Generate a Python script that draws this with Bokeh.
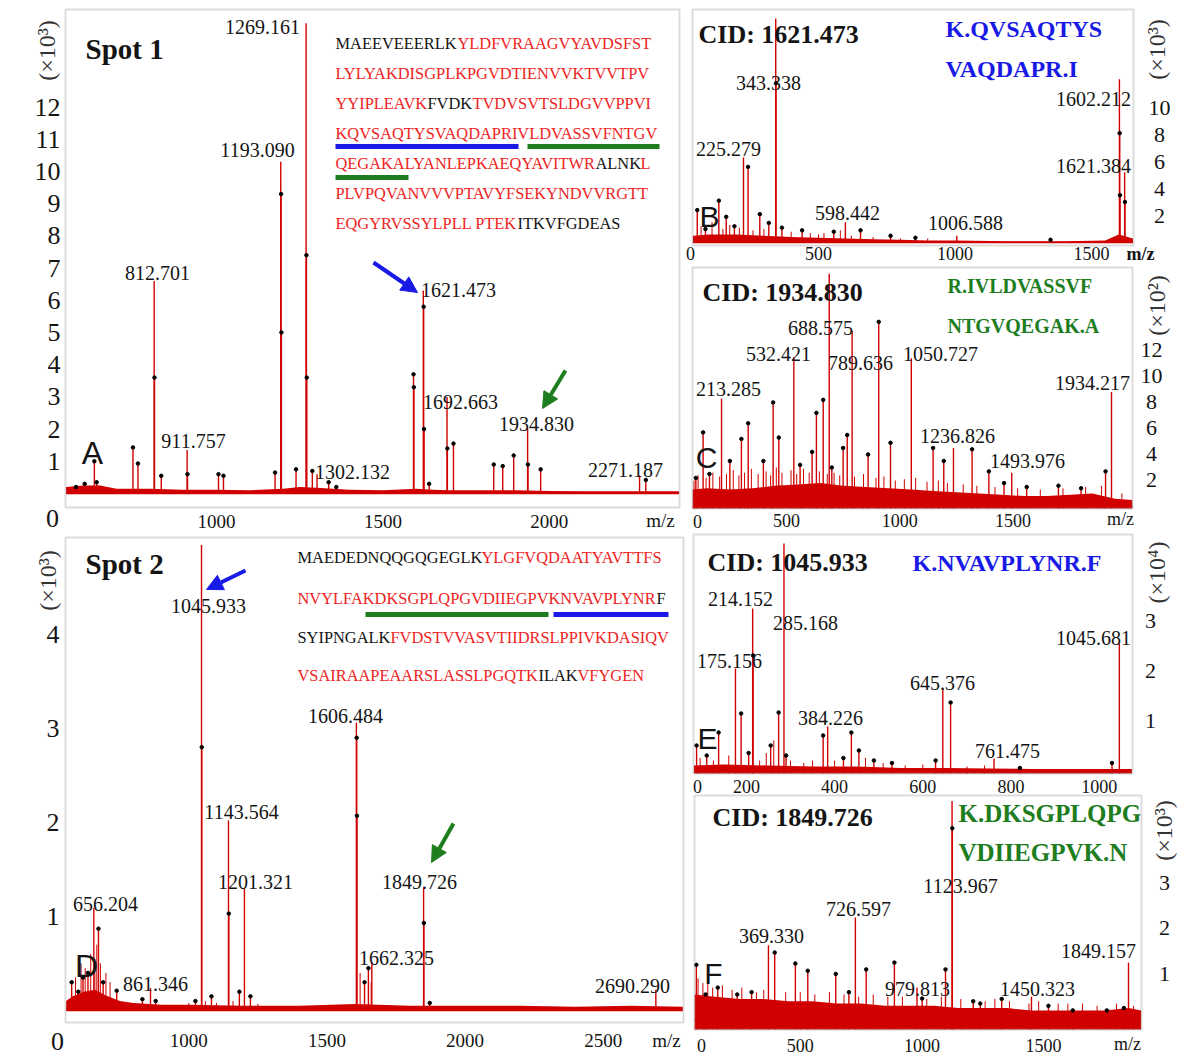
from math import pi
from bokeh.plotting import figure
from bokeh.models import Label, Arrow, NormalHead, Range1d, BoxAnnotation
from bokeh.embed import file_html
from bokeh.resources import INLINE

# ============================ DATA ============================
# Panel A - Spot 1 peptide mass fingerprint (intensity x10^3)
A_peak_mz = [812.701, 911.757, 1193.090, 1269.161, 1302.132, 1621.473, 1692.663, 1934.830, 2271.187]
A_peak_int = [6.6, 1.35, 10.3, 14.6, 0.6, 6.3, 3.0, 2.0, 0.56]
A_minor_mz = [578, 604, 633, 640, 749, 764, 813.7, 834, 912.8, 1006, 1021, 1176, 1194.1, 1195.1, 1239,
              1270.2, 1271.2, 1288, 1337, 1360, 1592, 1593, 1622.5, 1623.5, 1639, 1693.7, 1712, 1833,
              1860, 1893, 1935.8, 1974, 2290]
A_minor_int = [0.2, 0.3, 1.0, 0.35, 1.43, 0.93, 3.6, 0.55, 0.6, 0.6, 0.55, 0.65, 9.3, 5.0, 0.75,
               7.4, 3.6, 0.7, 0.35, 0.2, 3.7, 3.3, 5.8, 2.0, 0.3, 1.4, 1.55, 0.9,
               0.85, 1.18, 0.9, 0.75, 0.42]
A_grass_mz = []
A_grass_int = []
A_noise_mz = [548, 600, 650, 700, 800, 900, 1000, 1100, 1200, 1250, 1300, 1400, 1500, 1600, 1650,
              1700, 1800, 1900, 2000, 2100, 2200, 2300, 2390]
A_noise_int = [0.2, 0.25, 0.25, 0.15, 0.15, 0.12, 0.12, 0.1, 0.15, 0.2, 0.18, 0.12, 0.1, 0.15, 0.12,
               0.1, 0.1, 0.1, 0.08, 0.07, 0.07, 0.07, 0.07]
A_xticks = [1000, 1500, 2000]
A_yticks = [1, 2, 3, 4, 5, 6, 7, 8, 9, 10, 11, 12]

# Panel D - Spot 2 peptide mass fingerprint (x10^3)
D_peak_mz = [656.204, 861.346, 1045.933, 1143.564, 1201.321, 1606.484, 1662.325, 1849.726, 2690.290]
D_peak_int = [1.09, 0.24, 4.95, 2.02, 1.30, 3.06, 0.51, 1.31, 0.22]
D_minor_mz = [576, 600, 617, 635, 673, 690, 739, 832, 880, 1024, 1046.9, 1082, 1144.6,
              1183, 1223, 1607.5, 1608.5, 1636, 1650, 1850.7, 1872]
D_minor_int = [0.3, 0.2, 0.35, 0.4, 0.87, 0.3, 0.21, 0.12, 0.1, 0.1, 2.8, 0.15, 1.03,
               0.2, 0.15, 2.9, 2.07, 0.3, 0.45, 0.93, 0.08]
D_grass_mz = [590, 610, 625, 645, 660, 667, 680, 700, 715, 1000, 1060, 1100, 1160, 1250, 1620, 1660]
D_grass_int = [0.35, 0.5, 0.45, 0.6, 0.55, 0.7, 0.5, 0.4, 0.3, 0.08, 0.1, 0.08, 0.1, 0.07, 0.4, 0.3]
D_noise_mz = [556, 580, 620, 660, 700, 750, 800, 900, 1000, 1200, 1400, 1600, 1800, 2000, 2200,
              2400, 2600, 2788]
D_noise_int = [0.1, 0.15, 0.2, 0.22, 0.16, 0.1, 0.08, 0.06, 0.06, 0.05, 0.05, 0.07, 0.05, 0.05, 0.05,
               0.04, 0.05, 0.04]
D_xticks = [1000, 1500, 2000, 2500]
D_yticks = [1, 2, 3, 4]

# Panel B - CID of 1621.473 (x10^3)
B_peak_mz = [225.279, 343.338, 598.442, 1006.588, 1602.212, 1621.384]
B_peak_int = [6.3, 16.6, 1.5, 0.5, 12.1, 5.2]
B_minor_mz = [56, 86, 135, 162, 192, 242, 285, 318, 344.3, 366, 440, 556, 654, 764, 855, 1350,
              1603.2, 1604.2, 1622.4]
B_minor_int = [2.4, 1.0, 3.1, 1.9, 1.2, 5.6, 2.1, 1.45, 11.8, 1.1, 0.9, 0.8, 0.9, 0.5, 0.35, 0.2,
               8.1, 3.5, 3.0]
B_grass_mz = [70, 110, 150, 175, 210, 260, 300, 400, 470, 500, 520, 580, 620, 700, 800, 900]
B_grass_int = [1.2, 1.5, 1.0, 1.3, 1.1, 0.9, 1.0, 0.8, 0.7, 0.6, 0.7, 0.9, 0.5, 0.4, 0.3, 0.3]
B_noise_mz = [40, 100, 200, 300, 400, 500, 600, 700, 800, 900, 1000, 1200, 1400, 1550, 1600, 1652]
B_noise_int = [0.5, 0.6, 0.6, 0.5, 0.4, 0.35, 0.3, 0.25, 0.2, 0.15, 0.15, 0.1, 0.1, 0.15, 0.6, 0.3]
B_xticks = [500, 1000, 1500]
B_yticks = [2, 4, 6, 8, 10]

# Panel C - CID of 1934.830 (x10^2)
C_peak_mz = [213.285, 532.421, 688.575, 789.636, 1050.727, 1236.826, 1493.976, 1934.217]
C_peak_int = [8.3, 11.5, 17.9, 13.5, 11.4, 4.5, 2.6, 8.8]
C_minor_mz = [100, 132, 160, 250, 301, 331, 398, 441, 466, 560, 613, 632, 662, 700, 750, 768, 860,
              907, 959, 1147, 1194, 1319, 1393, 1460, 1560, 1700, 1800, 1908]
C_minor_int = [2.2, 5.7, 2.5, 3.5, 5.2, 6.4, 3.5, 8.0, 5.3, 3.2, 4.2, 7.2, 8.2, 3.0, 4.5, 5.5, 4.0,
               14.2, 4.9, 4.5, 3.5, 4.4, 2.7, 1.8, 1.5, 1.6, 1.4, 2.7]
C_grass_mz = [92, 110, 145, 175, 205, 235, 265, 290, 315, 345, 375, 410, 430, 455, 480, 520, 545,
              575, 600, 645, 680, 710, 735, 800, 840, 895, 930, 980, 1020, 1070, 1120, 1170, 1210,
              1280, 1340, 1420, 1520, 1620, 1720, 1820, 1890, 1980]
C_grass_int = [2.0, 2.4, 2.2, 2.6, 2.3, 2.5, 2.8, 2.4, 2.6, 2.9, 2.5, 2.7, 2.4, 3.0, 2.6, 2.8, 2.5,
               2.9, 2.6, 2.7, 2.5, 2.6, 2.4, 2.3, 2.5, 2.2, 2.3, 2.0, 2.1, 2.2, 1.9, 2.0, 1.8,
               1.7, 1.6, 1.5, 1.4, 1.3, 1.4, 1.5, 1.6, 1.0]
C_noise_mz = [86, 150, 250, 350, 450, 550, 650, 750, 850, 950, 1050, 1150, 1250, 1350, 1450, 1550,
              1650, 1750, 1850, 1950, 2026]
C_noise_int = [1.3, 1.4, 1.3, 1.4, 1.6, 1.7, 1.8, 1.6, 1.5, 1.4, 1.3, 1.2, 1.1, 1.0, 0.9, 0.8,
               0.8, 0.9, 1.0, 0.6, 0.5]
C_xticks = [500, 1000, 1500]
C_yticks = [2, 4, 6, 8, 10, 12]

# Panel E - CID of 1045.933 (x10^4)
E_peak_mz = [175.156, 214.152, 285.168, 384.226, 645.376, 761.475, 1045.681]
E_peak_int = [2.04, 3.24, 4.54, 0.88, 1.64, 0.24, 2.54]
E_minor_mz = [87, 110, 137, 188, 205, 215.15, 255, 273, 290, 374, 420, 438, 455, 489, 530, 629,
              663, 820, 1029]
E_minor_int = [0.5, 0.3, 0.76, 1.14, 0.35, 2.3, 0.5, 1.16, 0.3, 0.7, 0.25, 0.76, 0.4, 0.2, 0.15,
               0.2, 1.36, 0.05, 0.15]
E_grass_mz = [95, 125, 160, 230, 245, 262, 300, 330, 350, 400, 470, 510, 560, 600, 700, 740]
E_grass_int = [0.25, 0.2, 0.3, 0.2, 0.35, 0.6, 0.2, 0.15, 0.2, 0.2, 0.25, 0.15, 0.1, 0.12, 0.08, 0.1]
E_noise_mz = [81, 150, 250, 350, 450, 550, 650, 750, 850, 950, 1074]
E_noise_int = [0.1, 0.12, 0.1, 0.08, 0.08, 0.05, 0.05, 0.04, 0.03, 0.03, 0.03]
E_xticks = [200, 400, 600, 800, 1000]
E_yticks = [1, 2, 3]

# Panel F - CID of 1849.726 (x10^3)
F_peak_mz = [369.330, 726.597, 979.813, 1123.967, 1450.323, 1849.157]
F_peak_int = [1.63, 2.24, 0.7, 4.8, 0.5, 1.25]
F_minor_mz = [73, 111, 161, 241, 300, 395, 480, 531, 646, 700, 771, 887, 1001, 1097, 1124.97,
              1211, 1240, 1328, 1520, 1620, 1760, 1830]
F_minor_int = [1.2, 0.55, 0.7, 0.55, 0.6, 1.47, 1.23, 1.07, 1.0, 0.6, 1.1, 1.25, 0.46, 1.1, 4.2,
               0.4, 0.35, 0.45, 0.3, 0.2, 0.2, 0.25]
F_grass_mz = [80, 100, 120, 140, 180, 220, 260, 320, 350, 440, 500, 560, 620, 680, 740, 800, 860,
              920, 1020, 1080, 1160, 1260, 1300, 1360, 1440, 1480, 1560, 1600, 1660, 1720, 1800, 1870]
F_grass_int = [0.9, 0.8, 0.85, 0.7, 0.75, 0.65, 0.7, 0.6, 0.65, 0.6, 0.6, 0.55, 0.6, 0.55, 0.5, 0.55,
               0.5, 0.5, 0.45, 0.5, 0.45, 0.4, 0.45, 0.4, 0.35, 0.4, 0.35, 0.35, 0.35, 0.3, 0.35, 0.3]
F_noise_mz = [66, 150, 250, 350, 450, 550, 650, 750, 850, 950, 1050, 1150, 1250, 1350, 1450, 1550,
              1650, 1750, 1850, 1901]
F_noise_int = [0.55, 0.5, 0.45, 0.45, 0.4, 0.4, 0.35, 0.35, 0.3, 0.3, 0.3, 0.25, 0.25, 0.25, 0.2,
               0.2, 0.2, 0.2, 0.25, 0.2]
F_xticks = [500, 1000, 1500]
F_yticks = [1, 2, 3]

# Protein sequences: (segment, matched-by-PMF)
A_seq = [
    [("MAEEVEEERLK", False), ("YLDFVRAAGVYAVDSFST", True)],
    [("LYLYAKDISGPLKPGVDTIENVVKTVVTPV", True)],
    [("YYIPLEAVK", True), ("FVDK", False), ("TVDVSVTSLDGVVPPVI", True)],
    [("KQVSAQTYSVAQDAPRIVLDVASSVFNTGV", True)],
    [("QEGAKALYANLEPKAEQYAVITWR", True), ("ALNK", False), ("L", True)],
    [("PLVPQVANVVVPTAVYFSEKYNDVVRGTT", True)],
    [("EQGYRVSSYLPLL PTEK", True), ("ITKVFGDEAS", False)],
]
D_seq = [
    [("MAEDEDNQQGQGEGLK", False), ("YLGFVQDAATYAVTTFS", True)],
    [("NVYLFAKDKSGPLQPGVDIIEGPVKNVAVPLYNR", True), ("F", False)],
    [("SYIPNGALK", False), ("FVDSTVVASVTIIDRSLPPIVKDASIQV", True)],
    [("VSAIRAAPEAARSLASSLPGQTK", True), ("ILAK", False), ("VFYGEN", True)],
]

# ============================ STYLE ============================
SERIF = "Liberation Serif"
SANS = "Liberation Sans"
RED = "#d00000"
SEQ_RED = "#ee2424"
BLUE = "#1a1ae6"
GREEN = "#1e7d1e"
DARK = "#141414"
UNIT_COLOR = "#333333"
W, H = 1200, 1059

fig = figure(width=W, height=H, x_range=Range1d(0, W), y_range=Range1d(H, 0),
             output_backend="svg", toolbar_location=None,
             x_axis_location=None, y_axis_location=None, title_location=None,
             min_border_left=0, min_border_right=0, min_border_top=0, min_border_bottom=0)
fig.grid.visible = False
fig.outline_line_color = None
fig.background_fill_color = "white"
fig.border_fill_color = "white"


class Panel:
    """One spectrum panel: its own pair of linear scales inside the shared page figure."""

    def __init__(self, name, frame, xr, yr):
        self.n = name
        self.L, self.R, self.T, self.B = frame
        self.x0, self.x1 = xr
        self.y0, self.y1 = yr
        fig.extra_x_ranges[name] = Range1d(self.X(0), self.X(W))
        fig.extra_y_ranges[name] = Range1d(self.Y(H), self.Y(0))
        fig.add_layout(BoxAnnotation(left=self.x0, right=self.x1, bottom=self.y0, top=self.y1,
                                     x_range_name=name, y_range_name=name,
                                     fill_alpha=0.0, line_color="#8c8c8c", line_width=2))

    def X(self, px):
        return self.x0 + (px - self.L) / (self.R - self.L) * (self.x1 - self.x0)

    def Y(self, py):
        return self.y0 + (self.B - py) / (self.B - self.T) * (self.y1 - self.y0)

    def label(self, x, y, s, size, color=DARK, font=SERIF, style="normal", align="center", angle=0.0):
        fig.add_layout(Label(x=x, y=y, text=s, text_font=font, text_font_size=f"{size}px",
                             text_font_style=style, text_color=color, text_align=align,
                             text_baseline="middle", angle=angle,
                             x_range_name=self.n, y_range_name=self.n))

    def txt(self, px, py, s, size, **kw):
        self.label(self.X(px), self.Y(py), s, size, **kw)

    def xticks(self, ticks, py, size):
        for t in ticks:
            self.label(t, self.Y(py), f"{t}", size)

    def yticks(self, ticks, px, size, align):
        for t in ticks:
            self.label(self.X(px), t, f"{t}", size, align=align)

    def spectrum(self, base, noise_mz, noise_int, pk_mz, pk_int, mn_mz, mn_int, gr_mz, gr_int):
        kw = dict(x_range_name=self.n, y_range_name=self.n)
        fig.varea(x=noise_mz, y1=[base] * len(noise_mz), y2=noise_int, fill_color=RED, **kw)
        fig.line(x=noise_mz, y=[0] * len(noise_mz), line_color=RED, line_width=1.5, **kw)
        if gr_mz:
            fig.segment(x0=gr_mz, y0=[base] * len(gr_mz), x1=gr_mz, y1=gr_int,
                        line_color=RED, line_width=1.0, **kw)
        fig.segment(x0=mn_mz, y0=[base] * len(mn_mz), x1=mn_mz, y1=mn_int,
                    line_color=RED, line_width=1.4, **kw)
        fig.segment(x0=pk_mz, y0=[base] * len(pk_mz), x1=pk_mz, y1=pk_int,
                    line_color=RED, line_width=1.4, **kw)
        fig.scatter(x=mn_mz, y=mn_int, size=3.5, color="black", **kw)

    def peak_labels(self, mzs, positions, size=20):
        for mz, (px, py) in zip(mzs, positions):
            self.txt(px, py, f"{mz:.3f}", size)

    def sequence(self, seq, ys, xs, size=16.4):
        for line, yy, xl in zip(seq, ys, xs):
            for (s, matched), xx in zip(line, xl):
                self.txt(xx, yy, s, size, color=SEQ_RED if matched else DARK, align="left")

    def arrow(self, a, b, color):
        fig.add_layout(Arrow(end=NormalHead(size=16, fill_color=color, line_color=color),
                             x_start=self.X(a[0]), y_start=self.Y(a[1]),
                             x_end=self.X(b[0]), y_end=self.Y(b[1]),
                             x_range_name=self.n, y_range_name=self.n,
                             line_color=color, line_width=4))

    def bar(self, xa, xb, yc, color):
        fig.add_layout(BoxAnnotation(left=self.X(xa), right=self.X(xb), bottom=self.Y(yc + 2.5),
                                     top=self.Y(yc - 2.5), x_range_name=self.n, y_range_name=self.n,
                                     fill_color=color, fill_alpha=1.0, line_color=None))


# ============================ PANEL A ============================
A = Panel("A", (65, 679, 9, 507), (546.3, 2391.2), (-0.435, 15.03))
A.spectrum(0, A_noise_mz, A_noise_int, A_peak_mz, A_peak_int, A_minor_mz, A_minor_int,
           A_grass_mz, A_grass_int)
A.xticks(A_xticks, 521, 19)
A.yticks(A_yticks, 60, 26, "right")
A.peak_labels(A_peak_mz, [(157, 272), (193, 440), (257, 149), (262, 26), (352, 471), (458, 289),
                          (460, 401), (536, 423), (625, 469)])
A.txt(85, 48, "Spot 1", 29, style="bold", align="left")
A.txt(92, 452, "A", 32, font=SANS)
A.txt(52, 518, "0", 26)
A.txt(660, 520, "m/z", 19)
A.txt(46, 50, "(×10³)", 24, color=UNIT_COLOR, angle=pi / 2)
A.sequence(A_seq, [43, 73, 103, 133, 163, 193, 223],
           [[335, 457], [335], [335, 427, 472], [335], [335, 595, 640], [335], [335, 517]])
A.bar(335, 518, 146, BLUE)
A.bar(527, 659, 146, GREEN)
A.bar(335, 408, 177, GREEN)
A.arrow((373, 262), (417, 292), BLUE)
A.arrow((565, 370), (542, 408), GREEN)

# ============================ PANEL D ============================
D = Panel("D", (65, 683, 537, 1022), (553.7, 2790.4), (-0.128, 5.03))
D.spectrum(0, D_noise_mz, D_noise_int, D_peak_mz, D_peak_int, D_minor_mz, D_minor_int,
           D_grass_mz, D_grass_int)
D.xticks(D_xticks, 1040, 19)
D.yticks(D_yticks, 59, 26, "right")
D.peak_labels(D_peak_mz, [(105, 903), (155, 983), (208, 605), (241, 811), (255, 881), (345, 715),
                          (396, 957), (419, 881), (632, 985)])
D.txt(85, 563, "Spot 2", 29, style="bold", align="left")
D.txt(86, 965, "D", 32, font=SANS)
D.txt(57, 1041, "0", 26)
D.txt(666, 1040, "m/z", 19)
D.txt(47, 580, "(×10³)", 24, color=UNIT_COLOR, angle=pi / 2)
D.sequence(D_seq, [557, 598, 637, 675], [[297, 481], [297, 656], [297, 390], [297, 538, 577]])
D.bar(365, 548, 614, GREEN)
D.bar(553, 668, 614, BLUE)
D.arrow((245, 570), (206, 589), BLUE)
D.arrow((453, 823), (431, 862), GREEN)

# ============================ PANEL B ============================
B = Panel("B", (692, 1133, 9, 245), (38.5, 1653.8), (-0.222, 17.26))
B.spectrum(0, B_noise_mz, B_noise_int, B_peak_mz, B_peak_int, B_minor_mz, B_minor_int,
           B_grass_mz, B_grass_int)
B.xticks(B_xticks, 253, 18)
B.yticks(B_yticks, 1159, 22, "center")
B.peak_labels(B_peak_mz, [(728, 148), (768, 82), (847, 212), (965, 222), (1093, 98), (1093, 165)])
B.txt(698, 34, "CID: 1621.473", 26, style="bold", align="left")
B.txt(945, 28, "K.QVSAQTYS", 24, color=BLUE, style="bold", align="left")
B.txt(945, 68, "VAQDAPR.I", 24, color=BLUE, style="bold", align="left")
B.txt(709, 216, "B", 30, font=SANS)
B.txt(690, 253, "0", 18)
B.txt(1140, 253, "m/z", 18, style="bold")
B.txt(1156, 49, "(×10³)", 24, color=UNIT_COLOR, angle=pi / 2)

# ============================ PANEL C ============================
C = Panel("C", (692, 1132, 267, 508), (85.2, 2026.9), (-0.154, 18.38))
C.spectrum(-0.154, C_noise_mz, C_noise_int, C_peak_mz, C_peak_int, C_minor_mz, C_minor_int,
           C_grass_mz, C_grass_int)
C.xticks(C_xticks, 520, 18)
C.yticks(C_yticks, 1151, 22, "center")
C.peak_labels(C_peak_mz, [(728, 388), (778, 353), (820, 327), (860, 362), (940, 353), (957, 435),
                          (1027, 460), (1092, 382)])
C.txt(702, 292, "CID: 1934.830", 26, style="bold", align="left")
C.txt(947, 285, "R.IVLDVASSVF", 20, color=GREEN, style="bold", align="left")
C.txt(947, 325, "NTGVQEGAK.A", 20, color=GREEN, style="bold", align="left")
C.txt(706, 457, "C", 30, font=SANS)
C.txt(697, 521, "0", 18)
C.txt(1120, 518, "m/z", 18)
C.txt(1156, 305, "(×10²)", 24, color=UNIT_COLOR, angle=pi / 2)

# ============================ PANEL E ============================
E = Panel("E", (693, 1132, 534, 773), (80.0, 1075.5), (-0.06, 4.72))
E.spectrum(-0.06, E_noise_mz, E_noise_int, E_peak_mz, E_peak_int, E_minor_mz, E_minor_int,
           E_grass_mz, E_grass_int)
E.xticks(E_xticks, 786, 18)
E.yticks(E_yticks, 1150, 22, "center")
E.peak_labels(E_peak_mz, [(729, 660), (740, 598), (805, 622), (830, 717), (942, 682), (1007, 750),
                          (1093, 637)])
E.txt(707, 562, "CID: 1045.933", 26, style="bold", align="left")
E.txt(912, 562, "K.NVAVPLYNR.F", 24, color=BLUE, style="bold", align="left")
E.txt(707, 738, "E", 30, font=SANS)
E.txt(697, 786, "0", 18)
E.txt(1156, 572, "(×10⁴)", 24, color=UNIT_COLOR, angle=pi / 2)

# ============================ PANEL F ============================
F = Panel("F", (694, 1141, 795, 1029), (65.4, 1902.6), (-0.22, 4.92))
F.spectrum(-0.22, F_noise_mz, F_noise_int, F_peak_mz, F_peak_int, F_minor_mz, F_minor_int,
           F_grass_mz, F_grass_int)
F.xticks(F_xticks, 1045, 18)
F.yticks(F_yticks, 1164, 22, "center")
F.peak_labels(F_peak_mz, [(771, 935), (858, 908), (917, 988), (960, 885), (1037, 988), (1098, 950)])
F.txt(712, 817, "CID: 1849.726", 26, style="bold", align="left")
F.txt(958, 813, "K.DKSGPLQPG", 25, color=GREEN, style="bold", align="left")
F.txt(958, 852, "VDIIEGPVK.N", 25, color=GREEN, style="bold", align="left")
F.txt(713, 973, "F", 30, font=SANS)
F.txt(701, 1045, "0", 18)
F.txt(1127, 1043, "m/z", 18)
F.txt(1163, 830, "(×10³)", 24, color=UNIT_COLOR, angle=pi / 2)

open("out.html", "w").write(file_html(fig, INLINE, title="MALDI spectra"))
